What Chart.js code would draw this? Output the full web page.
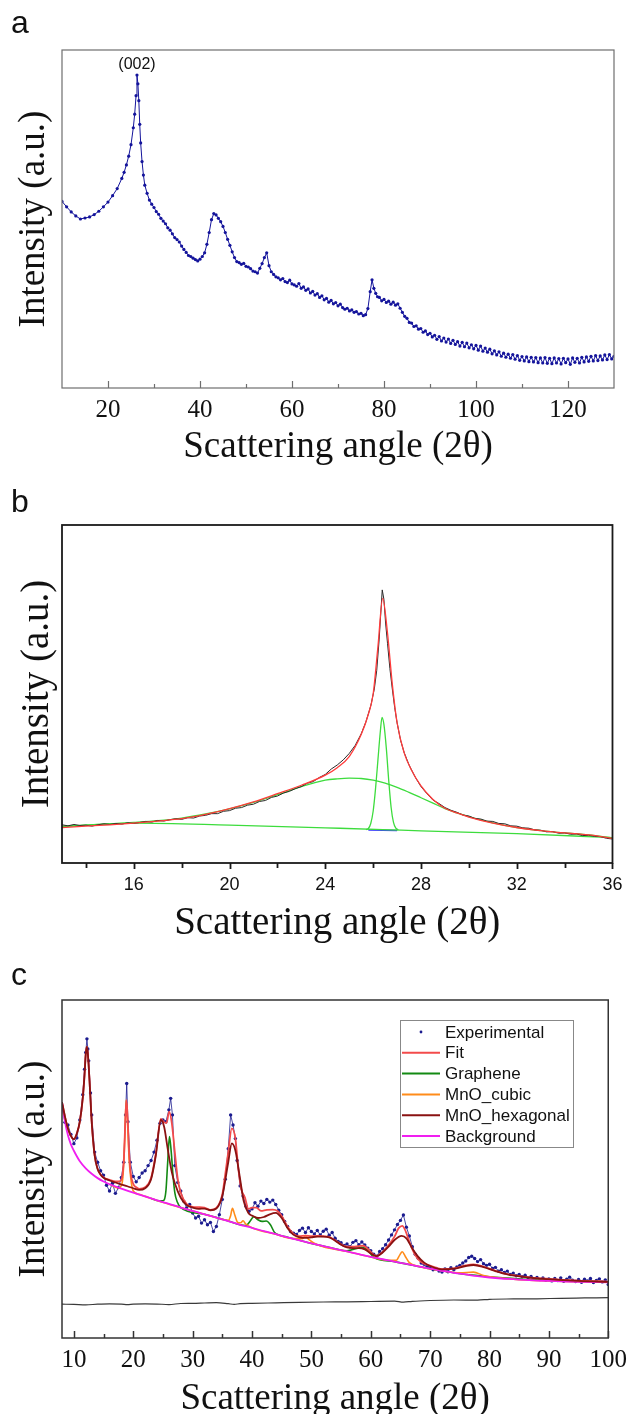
<!DOCTYPE html>
<html><head><meta charset="utf-8">
<script src="https://cdn.jsdelivr.net/npm/chart.js"></script>
<style>
html,body{margin:0;padding:0;background:#fff;overflow:hidden;width:634px;height:1414px;position:relative;}
.wrap{position:absolute;left:0;width:634px;}
canvas{display:block;}
.lbl{position:absolute;left:11px;font:32px 'Liberation Sans',Arial,sans-serif;line-height:32px;color:#111;}
</style></head><body>
<div class="wrap" style="top:0;height:470px"><canvas id="ca" width="634" height="470"></canvas></div>
<div class="wrap" style="top:470px;height:480px"><canvas id="cb" width="634" height="480"></canvas></div>
<div class="wrap" style="top:950px;height:472px"><canvas id="cc" width="634" height="472"></canvas></div>
<div class="lbl" style="top:6px">a</div>
<div class="lbl" style="top:485px">b</div>
<div class="lbl" style="top:958px">c</div>
<script>
// ---------------- Panel a : XRD pattern ----------------
const aAngle = [
 10,11,12,13,14,15,16,17,18,19,
 20,21,22,23,23.5,24,24.5,25,25.5,25.8,
 26.1,26.3,26.5,26.7,26.9,27.1,27.4,27.7,28,28.5,
 29,29.5,30,30.5,31,31.5,32,32.5,33,33.5,
 34,34.5,35,35.5,36,36.5,37,37.5,38,38.5,
 39,39.5,40,40.5,41,41.5,42,42.5,43,43.5,
 44,44.5,45,45.5,46,46.5,47,47.5,48,48.5,
 49,49.5,50,50.5,51,51.5,52,52.5,53,53.5,
 54,54.5,55,55.5,56,56.5,57,57.5,58,58.5,
 59,59.5,60,60.5,61,61.5,62,62.5,63,63.5,
 64,64.5,65,65.5,66,66.5,67,67.5,68,68.5,
 69,69.5,70,70.5,71,71.5,72,72.5,73,73.5,
 74,74.5,75,75.5,76,76.5,77,77.4,77.8,78.2,
 78.6,79,79.5,80,80.5,81,81.5,82,82.5,83,
 83.5,84,84.5,85,85.5,86,86.5,87,87.5,88,
 88.5,89,89.5,90,90.5,91,91.5,92,92.5,93,
 93.5,94,94.5,95,95.5,96,96.5,97,97.5,98,
 98.5,99,99.5,100,100.5,101,101.5,102,102.5,103,
 103.5,104,104.5,105,105.5,106,106.5,107,107.5,108,
 108.5,109,109.5,110,110.5,111,111.5,112,112.5,113,
 113.5,114,114.5,115,115.5,116,116.5,117,117.5,118,
 118.5,119,119.5,120,120.5,121,121.5,122,122.5,123,
 123.5,124,124.5,125,125.5,126,126.5,127,127.5,128,
 128.5,129,129.5,130];
const aIntensity = [
 55.2,53.6,52.1,50.9,50.0,50.3,50.6,51.3,52.3,53.6,
 55.0,56.9,59.0,62.0,63.8,66.0,68.6,72.0,77.0,81.0,
 86.5,92.6,90.0,85.0,78.0,72.5,67.0,63.0,60.0,57.6,
 55.6,54.4,53.4,52.2,51.4,50.2,49.4,48.6,47.4,46.7,
 45.6,44.5,43.9,43.2,42.0,41.0,40.1,39.2,38.9,38.4,
 38.0,37.6,38.1,38.9,40.0,42.5,46.0,49.8,51.6,51.2,
 50.2,49.2,47.8,46.0,44.0,42.2,40.3,38.6,37.4,37.1,
 36.6,36.9,36.0,35.8,35.3,34.6,34.4,34.0,35.4,36.8,
 38.6,40.0,36.2,34.4,33.6,32.9,32.6,32.0,32.4,31.5,
 31.2,31.9,30.8,30.5,30.1,30.9,29.5,29.9,28.9,29.3,
 28.1,28.6,27.5,27.9,26.8,27.3,26.1,26.5,25.4,25.9,
 24.9,25.3,24.3,24.8,23.8,23.3,23.6,22.8,23.1,22.4,
 22.6,21.9,22.1,21.4,21.7,23.5,28.5,32.0,29.5,28.0,
 27.0,26.8,25.8,26.2,25.3,25.7,24.8,25.4,24.5,24.9,
 23.6,22.4,21.2,20.6,19.4,19.2,18.2,18.4,17.4,17.6,
 16.5,16.9,15.8,16.2,15.1,15.6,14.4,15.2,13.9,14.8,
 13.6,14.5,13.2,14.1,12.9,13.7,12.4,13.5,12.2,13.3,
 11.9,12.8,11.6,12.6,11.2,12.4,10.9,11.8,10.6,11.5,
 10.1,11.0,9.8,10.7,9.4,10.3,9.1,10.0,8.8,9.9,
 8.5,9.6,8.2,9.3,8.0,9.2,7.8,9.1,7.7,9.0,
 7.5,8.9,7.4,9.0,7.3,8.8,7.2,8.9,7.4,8.7,
 7.1,8.8,7.5,8.6,7.0,8.9,7.6,8.8,7.4,9.1,
 7.7,9.2,7.9,9.4,8.0,9.6,8.1,9.5,8.3,9.8,
 8.4,9.9,8.6,9.4];
const aTicks = [20,40,60,80,100,120];
const aMinorTicks = [30,50,70,90,110];
const aPeakLabel = '(002)';
const aPeakAngle = 26.3;
const aPeakValue = 92.6;

// ---------------- Panel b : (002) peak fit ----------------
const bExpAngle = [
 13,13.25,13.5,13.75,14,14.25,14.5,14.75,15,15.25,
 15.5,15.75,16,16.25,16.5,16.75,17,17.25,17.5,17.75,
 18,18.25,18.5,18.75,19,19.25,19.5,19.75,20,20.25,
 20.5,20.75,21,21.25,21.5,21.75,22,22.25,22.5,22.75,
 23,23.25,23.5,23.75,24,24.25,24.5,24.75,25,25.25,
 25.5,25.7,25.9,26.05,26.15,26.25,26.32,26.38,26.45,26.52,
 26.6,26.7,26.8,26.9,27,27.15,27.3,27.5,27.75,28,
 28.25,28.5,28.75,29,29.25,29.5,29.75,30,30.25,30.5,
 30.75,31,31.25,31.5,31.75,32,32.25,32.5,32.75,33,
 33.25,33.5,33.75,34,34.25,34.5,34.75,35,35.25,35.5,
 35.75,36];
const bExp = [
 11.3,11.0,11.4,11.1,11.2,10.9,11.3,11.6,11.4,11.7,
 11.5,11.9,11.7,12.0,12.3,12.1,12.6,12.4,12.8,13.1,
 12.9,13.4,13.3,13.9,14.1,14.6,14.6,15.3,15.5,16.2,
 16.4,17.1,17.4,18.2,18.5,19.4,19.8,20.7,21.2,22.0,
 22.6,23.6,24.1,25.3,26.2,27.8,29.0,30.5,32.4,34.8,
 38.2,41.8,46.5,51.5,57.0,66.0,74.0,80.8,78.0,71.0,
 65.0,57.5,51.5,46.0,41.5,36.2,32.6,29.0,25.5,22.6,
 20.5,18.6,17.6,16.4,15.6,15.0,14.2,13.9,13.2,13.0,
 12.4,12.3,11.7,11.6,11.0,10.9,10.4,10.3,9.8,9.7,
 9.2,9.3,8.8,8.9,8.5,8.6,8.1,8.2,7.9,7.8,
 7.3,7.1];
const bFitAngle = [13,14,15,16,17,18,19,20,21,22,23,24,24.5,25,25.5,25.8,26,26.2,26.4,26.6,26.8,27,27.3,27.6,28,28.5,29,29.5,30,31,32,33,34,35,36];
const bFit = [10.5,10.9,11.3,11.8,12.4,13.1,14.4,16.1,18.1,20.5,23,26,28.2,31.5,38,44,50,64,78.3,68,53,41.5,32.5,27.5,22.8,18.8,16.2,14.8,13.6,11.8,10.5,9.6,8.9,8.3,7.3];
const bBroadAngle = [13,14,15,16,17,18,19,20,21,22,23,24,24.5,25,25.5,26,26.5,27,27.5,28,28.5,29,30,31,32,33,34,35,36];
const bBroad = [10.8,11.2,11.6,12.0,12.5,13.3,14.5,16.0,17.9,20.2,22.6,24.5,24.9,25.1,25.0,24.5,23.6,22.4,20.9,19.3,17.7,16.1,13.7,11.9,10.5,9.6,8.9,8.3,7.4];
const bNarrowAngle = [25.7,25.8,25.9,26.0,26.1,26.2,26.3,26.37,26.45,26.55,26.65,26.75,26.85,26.95,27.05];
const bNarrow = [9.9,10.2,11.7,15.3,22,30.5,38.9,43.1,41,34,24.5,16.5,12,10.3,9.8];
const bBaseAngle = [13,16,20,24,26.4,28,32,36];
const bBase = [10.8,11.8,11.2,10.4,9.9,9.5,8.7,7.5];
const bBlueAngle = [25.8,27.0];
const bBlue = [9.75,9.6];
const bTicks = [16,20,24,28,32,36];
const bMinorTicks = [14,18,22,26,30,34];

// ---------------- Panel c : phase fit ----------------
const cExpAngle = [
 8,8.5,9,9.5,10,10.5,11,11.5,11.8,12,
 12.2,12.35,12.5,12.8,13,13.5,14,14.5,15,15.5,
 16,16.5,17,17.5,18,18.4,18.7,18.9,19.1,19.5,
 20,20.5,21,21.5,22,22.5,23,23.5,24,24.5,
 25,25.5,26,26.3,26.6,27,27.5,28,28.5,29,
 29.5,30,30.5,31,31.5,32,32.5,33,33.5,34,
 34.5,35,35.5,36,36.4,36.8,37.2,37.5,38,38.5,
 39,39.5,40,40.5,41,41.5,42,42.5,43,43.5,
 44,44.5,45,45.5,46,46.5,47,47.5,48,48.5,
 49,49.5,50,50.5,51,51.5,52,52.5,53,53.5,
 54,54.5,55,55.5,56,56.5,57,57.5,58,58.5,
 59,59.5,60,60.5,61,61.5,62,62.5,63,63.5,
 64,64.5,65,65.5,66,66.5,67,67.5,68,68.5,
 69,69.5,70,70.5,71,71.5,72,72.5,73,73.5,
 74,74.5,75,75.5,76,76.5,77,77.5,78,78.5,
 79,79.5,80,80.5,81,81.5,82,82.5,83,83.5,
 84,84.5,85,85.5,86,86.5,87,87.5,88,88.5,
 89,89.5,90,90.5,91,91.5,92,92.5,93,93.5,
 94,94.5,95,95.5,96,96.5,97,97.5,98,98.5,
 99,99.5,100];
const cExp = [
 68.5,63.8,63,60.2,57.5,59.2,64.5,72,79.5,84.5,
 88.5,85.5,82,72.5,66,55,52,49.5,48.2,45.2,
 43.5,45.8,42.8,44.5,47.5,52,66,75.3,64,52,
 47.8,46.2,47.5,48.8,49.5,51,52.5,55,58.5,63.5,
 64.5,64,67.5,70.9,66,51,46,43.5,40.5,38.5,
 39.5,37,35.5,36,34,35,33.5,34.2,31.5,33,
 36.5,41,47,56,66,63,59,52.5,45,42,
 39,37.5,38.2,40,39,40.5,39.8,41,40.2,40.8,
 39.5,37.8,36.5,34.5,33,31.5,31,30.6,31.8,32.5,
 31.2,32.6,31.5,30.8,31.8,30.5,31.6,32.2,30.4,31.2,
 29.5,28.6,28.2,27.4,27.8,27,28.3,28.8,27.6,28.4,
 27.5,26.6,25.8,24.8,24.2,25.6,26.4,27.6,29,30.5,
 32,33.6,34.8,36.4,32.8,30.2,27,24.8,23.6,22.2,
 21.8,21.2,20.8,20.2,20.6,19.8,19.5,20.4,19.6,20.8,
 20.2,21,21.5,22.2,22.8,23.8,24.2,23.5,22.6,23.2,
 22,21.5,21.8,20.6,20.9,19.8,20.2,19.4,19.8,18.8,
 19.2,18.4,18.8,18.1,18.6,17.8,18.2,17.4,17.9,17.3,
 17.8,17.1,17.5,16.9,17.6,17.0,17.8,16.8,17.4,18.0,
 17.1,16.7,17.3,16.5,17.4,16.9,17.6,16.4,17.0,17.5,
 16.6,17.2,15.8];
const cFitAngle = [
 8,8.5,9,9.5,10,10.5,11,11.5,11.8,12,
 12.2,12.4,12.7,13,13.5,14,14.5,15,16,17,
 17.8,18.2,18.45,18.65,18.85,19.05,19.3,19.6,20,20.5,
 21,22,23,23.8,24.65,25.2,25.6,26.05,26.5,27,
 27.5,28,29,30,31,32,33,34,35,35.5,
 36,36.6,37.2,37.7,38.2,38.8,39.4,40,40.7,41.5,
 42.5,43.5,44.3,45,46,47,48,49,50,51,
 52,53,54,55,56,57,58,58.7,59.5,60.5,
 61,62,63,64,64.7,65.3,65.9,66.6,67.5,68.5,
 70,72,74,76,77.3,79,81,83,86,90,
 95,100];
const cFit = [
 69.8,65.5,62,59.8,58.8,60.5,64,71,78,84,
 86.2,83,74,64,54,50,48.4,47.5,46.8,46.3,
 46.4,48.5,54,63.5,70.4,65.5,55,48.5,45.6,44.6,
 44.1,44.6,47.3,54.5,64.8,63.8,63.6,67,63.5,55,
 47,43,39.6,38.8,38.7,38.6,37.9,38.5,42.5,48.5,
 55,62,59,50,44,41.6,38.2,38.6,38.6,37.6,
 37.9,38,37.6,36.1,32.9,30.8,30.1,30.3,30.1,30.2,
 30.1,29.9,28.9,27.7,27,27,27.2,27.3,26.4,24.6,
 24.3,25.5,27.5,30,32.5,33.2,31.5,28,24.5,22.5,
 21.4,20.4,20.6,21.5,21.8,21.1,19.9,18.9,18.1,17.5,
 17,16.7];
const cGrapheneAngle = [
 23,24,25,25.5,25.8,26.1,26.4,26.7,27.0,27.4,
 28,32,36,38,39,39.7,40.3,41,41.7,42.4,
 43.1,43.8,44.5,46,50,54,56,57.5,58.5,59.5,
 60.5,64,70,76,78,80,86,92,100];
const cGraphene = [
 41.3,40.7,40.6,43.5,52,59.6,55,48,43,40.3,
 38.6,36.6,34.6,33.5,33.3,34.6,35.9,35.0,34.5,34.6,
 33.5,31.2,30.5,29.8,28.0,26.4,25.8,26.4,26.8,26.0,
 23.9,22.6,20.5,18.8,18.5,18.1,17.4,16.9,16.6];
const cCubicAngle = [
 16,17.5,18.1,18.35,18.55,18.8,19.05,19.3,19.6,20,
 21,22,24,28,32,35,36,36.4,36.7,37.1,
 37.6,38.1,38.5,38.9,40,44,47,48.5,49,49.6,
 51,56,60,63,64.3,64.9,65.3,65.8,66.5,68,
 72,75,77.3,79,84,90,100];
const cCubic = [
 45.5,44.4,45.6,50,58,70.4,63,53,47,43.5,
 42.5,41.9,40.7,38.6,36.6,35.1,34.8,36.2,38.4,36.4,
 34.2,34.1,34.7,33.8,32.6,30.7,29.4,29.4,30.2,29.1,
 27.6,25.6,24.0,23.0,23.0,24.6,25.5,24.2,22.3,21.2,
 19.9,19.3,19.5,18.5,17.4,16.9,16.5];
const cHexAngle = [
 8,8.5,9,9.5,10,10.5,11,11.5,11.8,12,
 12.2,12.4,12.7,13,13.5,14,14.5,15,16,17,
 18,19,20,21,22,23,23.8,24.65,25.2,25.8,
 26.5,27,28,29,30,31,32,33,34,35,
 36,36.6,37.2,38,38.6,39.4,40,41,42,43,
 44,45,46,47,48,49,50,51,52,53,
 54,55,56,57,58,59,60,61,62,63,
 64,65.2,66,67,68,69,70,72,74,76,
 77.3,79,81,83,86,90,95,100];
const cHex = [
 69.8,65.5,62,59.8,58.8,60.5,64,71,78,84,
 86.2,83,74,64,54,50,48.3,47.4,46.6,46,
 45.4,44.9,44.3,43.8,44.3,47,54,64.5,62.5,56,
 49,45.8,41.5,39.3,38.6,38.2,38.3,37.8,38.3,42,
 52,57.6,55.5,47,40.5,37,36.2,35.5,35.8,36.6,
 37,35.5,32.5,30.5,29.8,29.6,29.8,30,30,29.8,
 28.8,27.6,26.8,26.6,26.6,26.2,25,24.2,25.3,27,
 29,30.2,29.5,26.5,24,22.3,21.3,20.3,20.5,21.3,
 21.6,21,19.8,18.8,18.0,17.4,16.9,16.6];
const cBgAngle = [
 8,8.5,9,9.5,10,11,12,13,14,15,
 16,18,20,22,24,26,28,30,32,34,
 36,38,40,42,44,46,48,50,52,54,
 56,58,60,62,64,66,68,70,72,74,
 76,78,80,82,84,86,88,90,93,96,
 100];
const cBg = [
 69.8,64,60,57.3,55.4,52.3,50.2,48.6,47.3,46.3,
 45.5,44.2,43.0,41.9,40.7,39.7,38.6,37.6,36.6,35.6,
 34.6,33.5,32.6,31.6,30.7,29.8,28.9,28.0,27.2,26.4,
 25.6,24.8,24.0,23.3,22.6,21.9,21.2,20.5,19.9,19.3,
 18.8,18.3,17.9,17.6,17.4,17.2,17.0,16.9,16.7,16.6,
 16.5];
const cResAngle = [8,10,12,14,16,18,19,20,22,24,26,28,30,32,34,36,37,38,40,44,48,52,56,60,64,65.5,67,70,74,78,80,84,88,92,96,100];
const cRes = [10.0,9.95,9.8,10.0,10.1,10.05,9.85,10.0,10.1,10.05,9.9,10.2,10.25,10.35,10.45,10.15,9.95,10.15,10.25,10.4,10.55,10.65,10.7,10.8,10.9,10.6,10.85,11.1,11.25,11.2,11.45,11.55,11.6,11.75,11.85,11.95];
const cTicks = [10,20,30,40,50,60,70,80,90,100];
const cMinorTicks = [15,25,35,45,55,65,75,85,95];
const cLegendLabels = ['Experimental','Fit','Graphene','MnO_cubic','MnO_hexagonal','Background'];

// ---------------- helpers ----------------
const serif = "'Liberation Serif','Times New Roman',serif";
const sans = "'Liberation Sans',Arial,sans-serif";
const pts = (xs, ys) => xs.map((x, i) => ({x, y: ys[i]}));

const frameTicks = {
  id: 'frameTicks',
  afterDatasetsDraw(chart, args, o) {
    const {ctx, chartArea: ca} = chart;
    const xs = chart.scales.x;
    ctx.save();
    ctx.strokeStyle = o.color;
    ctx.lineWidth = o.lineWidth;
    const mark = (vals, len) => {
      for (const v of vals) {
        const px = Math.round(xs.getPixelForValue(v)) + 0.5;
        ctx.beginPath();
        ctx.moveTo(px, ca.bottom);
        ctx.lineTo(px, o.inward ? ca.bottom - len : ca.bottom + len);
        ctx.stroke();
      }
    };
    mark(o.major, o.majorLen);
    mark(o.minor, o.minorLen);
    ctx.strokeRect(ca.left, ca.top, ca.right - ca.left, ca.bottom - ca.top);
    ctx.restore();
  }
};

const peakLabel = {
  id: 'peakLabel',
  afterDatasetsDraw(chart, args, o) {
    if (!o.text) return;
    const {ctx, scales: {x, y}} = chart;
    ctx.save();
    ctx.font = o.font; ctx.fillStyle = o.color;
    ctx.textAlign = 'center'; ctx.textBaseline = 'middle';
    ctx.fillText(o.text, x.getPixelForValue(o.x), y.getPixelForValue(o.y) + o.dy);
    ctx.restore();
  }
};

const boxLegend = {
  id: 'boxLegend',
  afterDatasetsDraw(chart, args, o) {
    const {ctx} = chart;
    const items = o.labels.map(l => chart.data.datasets.find(d => d.label === l));
    ctx.save();
    ctx.fillStyle = '#fff';
    ctx.fillRect(o.left, o.top, o.width, o.height);
    ctx.strokeStyle = o.border; ctx.lineWidth = 1;
    ctx.strokeRect(o.left + 0.5, o.top + 0.5, o.width, o.height);
    ctx.font = o.font; ctx.textBaseline = 'middle'; ctx.textAlign = 'left';
    items.forEach((d, i) => {
      const y = o.firstRow + i * o.rowGap;
      if (!d.legendDot) {
        ctx.strokeStyle = d.borderColor; ctx.lineWidth = 2;
        ctx.beginPath(); ctx.moveTo(o.lineX0, y); ctx.lineTo(o.lineX1, y); ctx.stroke();
      } else {
        ctx.fillStyle = d.pointBackgroundColor;
        ctx.beginPath(); ctx.arc((o.lineX0 + o.lineX1) / 2, y, 1.4, 0, Math.PI * 2); ctx.fill();
      }
      ctx.fillStyle = o.textColor;
      ctx.fillText(d.label, o.textX, y + 1);
    });
    ctx.restore();
  }
};

function xScale(min, max, tickVals, tickFont, tickPad, titleSize, titlePad, axisHeight) {
  return {
    type: 'linear', min, max,
    grid: {display: false, drawTicks: false, tickLength: 0},
    border: {display: false},
    ticks: {font: tickFont, color: '#111', padding: tickPad, autoSkip: false, maxRotation: 0, minRotation: 0},
    afterBuildTicks: s => { s.ticks = tickVals.map(v => ({value: v})); },
    title: {display: true, text: 'Scattering angle (2θ)', color: '#111',
      font: {family: serif, size: titleSize}, padding: {top: 0, bottom: titlePad}},
    afterFit: s => { s.height = axisHeight; }
  };
}
function yScale(titleSize, titlePad) {
  return {
    type: 'linear', min: 0, max: 100,
    grid: {display: false, drawTicks: false, tickLength: 0},
    border: {display: false},
    ticks: {display: false},
    title: {display: true, text: 'Intensity (a.u.)', color: '#111',
      font: {family: serif, size: titleSize}, padding: {top: titlePad, bottom: 0}},
    afterFit: s => { s.width = 62; }
  };
}
function lineDs(label, xs, ys, color, width, order, smooth) {
  return {label, data: pts(xs, ys), showLine: true, borderColor: color, backgroundColor: color,
    borderWidth: width, pointRadius: 0, order,
    cubicInterpolationMode: smooth ? 'monotone' : 'default', tension: smooth ? 0.4 : 0};
}
function dotDs(label, xs, ys, color, r, order, linkWidth) {
  return {label, data: pts(xs, ys), showLine: linkWidth > 0, borderWidth: linkWidth, tension: 0,
    pointRadius: r, pointBorderWidth: 0, legendDot: true,
    pointBackgroundColor: color, backgroundColor: color, borderColor: color, order};
}
const common = {responsive: false, animation: false, devicePixelRatio: 1, events: []};

// ---------------- chart a ----------------
new Chart(document.getElementById('ca'), {
  type: 'scatter',
  data: {datasets: [dotDs('Experimental', aAngle, aIntensity, '#14149b', 1.6, 0, 1)]},
  options: {...common,
    layout: {padding: {top: 50, right: 20, bottom: 0, left: 0}},
    scales: {
      x: xScale(10, 130, aTicks, {family: serif, size: 25}, 7, 37, 1, 82),
      y: yScale(37, 12)
    },
    plugins: {legend: {display: false}, tooltip: {enabled: false},
      frameTicks: {color: '#6e6e6e', lineWidth: 1.2, inward: true, major: aTicks, minor: aMinorTicks, majorLen: 7, minorLen: 4},
      peakLabel: {text: aPeakLabel, x: aPeakAngle, y: aPeakValue, dy: -10, font: '16px ' + sans, color: '#111'}
    }
  },
  plugins: [frameTicks, peakLabel]
});

// ---------------- chart b ----------------
new Chart(document.getElementById('cb'), {
  type: 'scatter',
  data: {datasets: [
    lineDs('Fit', bFitAngle, bFit, '#ff3b3b', 1.3, 0, true),
    lineDs('Experimental', bExpAngle, bExp, '#2a2a2a', 1, 1, false),
    lineDs('Broad', bBroadAngle, bBroad, '#3ddc3d', 1.3, 2, true),
    lineDs('Narrow', bNarrowAngle, bNarrow, '#3ddc3d', 1.3, 3, true),
    lineDs('Baseline', bBaseAngle, bBase, '#3ddc3d', 1.3, 4, true),
    lineDs('Base segment', bBlueAngle, bBlue, '#3a3aff', 1.6, 5, false)
  ]},
  options: {...common,
    layout: {padding: {top: 55, right: 20, bottom: 0, left: 0}},
    scales: {
      x: xScale(13, 36, bTicks, {family: sans, size: 18}, 11.5, 39, 2.6, 87),
      y: yScale(39, 14.6)
    },
    plugins: {legend: {display: false}, tooltip: {enabled: false},
      frameTicks: {color: '#1a1a1a', lineWidth: 1.8, inward: false, major: bTicks, minor: bMinorTicks, majorLen: 6, minorLen: 5}
    }
  },
  plugins: [frameTicks]
});

// ---------------- chart c ----------------
new Chart(document.getElementById('cc'), {
  type: 'scatter',
  data: {datasets: [
    dotDs('Experimental', cExpAngle, cExp, '#1b1b8f', 1.7, 5, 0.8),
    lineDs('Fit', cFitAngle, cFit, '#f34b4b', 1.8, 1, true),
    lineDs('Graphene', cGrapheneAngle, cGraphene, '#138a13', 1.6, 4, true),
    lineDs('MnO_cubic', cCubicAngle, cCubic, '#ff8c1a', 1.6, 3, true),
    lineDs('MnO_hexagonal', cHexAngle, cHex, '#8a1212', 1.8, 0, true),
    lineDs('Background', cBgAngle, cBg, '#f01ef0', 1.8, 2, true),
    lineDs('Residual', cResAngle, cRes, '#3a3a3a', 1.2, 6, true)
  ]},
  options: {...common,
    layout: {padding: {top: 50, right: 20, bottom: 0, left: 0}},
    scales: {
      x: xScale(8, 100, cTicks, {family: serif, size: 25}, 7, 37, 0.5, 84),
      y: yScale(37, 12)
    },
    plugins: {legend: {display: false}, tooltip: {enabled: false},
      frameTicks: {color: '#333', lineWidth: 1.5, inward: true, major: cTicks, minor: cMinorTicks, majorLen: 7, minorLen: 4},
      boxLegend: {labels: cLegendLabels, left: 400, top: 70, width: 173, height: 127, border: '#888',
        firstRow: 82, rowGap: 20.8, lineX0: 402, lineX1: 440, textX: 445,
        font: '17px ' + sans, textColor: '#111'}
    }
  },
  plugins: [frameTicks, boxLegend]
});
</script>
</body></html>
